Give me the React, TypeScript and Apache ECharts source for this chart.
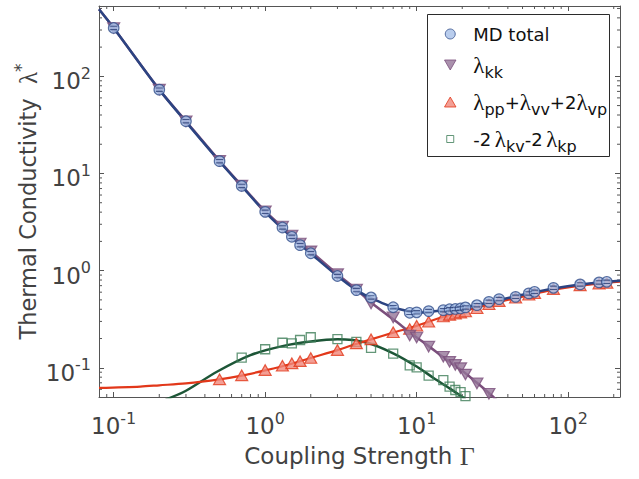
import React, { useEffect, useRef } from 'react';
import * as echarts from 'echarts';

// ---------- data ----------
const gammaMD = [0.1, 0.2, 0.3, 0.5, 0.7, 1, 1.3, 1.5, 1.7, 2, 3, 4, 5, 7, 9, 10, 12, 15, 16.5, 18, 19.5, 21, 25, 30, 35, 45, 55, 60, 80, 120, 160, 180];
const lambdaMD = [315, 73, 34.5, 13.4, 7.45, 4.03, 2.78, 2.23, 1.83, 1.51, 0.88, 0.63, 0.53, 0.42, 0.368, 0.372, 0.383, 0.392, 0.4, 0.403, 0.408, 0.418, 0.441, 0.477, 0.509, 0.537, 0.583, 0.605, 0.665, 0.721, 0.756, 0.767];

const gammaKK = [0.1, 0.2, 0.3, 0.5, 0.7, 1, 1.3, 1.5, 1.7, 2, 3, 4, 5, 7, 9, 10, 12, 15, 16.5, 18, 19.5, 21, 25, 30];
const lambdaKK = [315, 73, 34.5, 13.5, 7.5, 4.09, 2.85, 2.3, 1.9, 1.58, 0.92, 0.64, 0.46, 0.33, 0.215, 0.205, 0.165, 0.13, 0.115, 0.107, 0.099, 0.085, 0.069, 0.054];

const gammaPP = [0.5, 0.7, 1, 1.3, 1.5, 1.7, 2, 3, 4, 5, 7, 9, 10, 12, 15, 16.5, 18, 19.5, 21, 25, 30, 35, 45, 55, 60, 80, 120, 160, 180];
const lambdaPP = [0.076, 0.0835, 0.0946, 0.105, 0.111, 0.117, 0.126, 0.152, 0.178, 0.196, 0.232, 0.251, 0.271, 0.298, 0.337, 0.35, 0.36, 0.37, 0.38, 0.41, 0.45, 0.485, 0.525, 0.565, 0.585, 0.645, 0.705, 0.735, 0.745];

const gammaKV = [0.7, 1, 1.3, 1.5, 1.7, 2, 3, 4, 5, 7, 9, 10, 12, 15, 16.5, 18, 19.5, 21];
const lambdaKV = [0.127, 0.155, 0.181, 0.178, 0.193, 0.206, 0.197, 0.185, 0.16, 0.14, 0.106, 0.101, 0.083, 0.0747, 0.064, 0.059, 0.056, 0.051];

// fitted curves
const fitGammaMD = [0.08, 0.1, 0.2, 0.3, 0.5, 0.7, 1, 1.5, 2, 3, 4, 5, 6, 7, 8, 10, 12, 15, 20, 30, 50, 80, 120, 220];
const fitLambdaMD = [490, 315, 73, 34, 13.3, 7.4, 4.0, 2.2, 1.5, 0.88, 0.63, 0.52, 0.46, 0.42, 0.395, 0.37, 0.375, 0.39, 0.415, 0.47, 0.565, 0.655, 0.72, 0.785];

const fitGammaKK = [0.08, 0.1, 0.2, 0.3, 0.5, 0.7, 1, 1.5, 2, 3, 4, 5, 7, 10, 12, 15, 20, 25, 30, 34];
const fitLambdaKK = [490, 315, 73, 34.5, 13.5, 7.5, 4.1, 2.3, 1.58, 0.92, 0.64, 0.47, 0.315, 0.205, 0.167, 0.128, 0.093, 0.07, 0.055, 0.046];

const fitGammaPP = [0.08, 0.15, 0.2, 0.3, 0.5, 0.7, 1, 1.5, 2, 3, 4, 5, 7, 10, 15, 20, 30, 50, 80, 120, 220];
const fitLambdaPP = [0.062, 0.064, 0.066, 0.069, 0.076, 0.083, 0.094, 0.11, 0.126, 0.152, 0.176, 0.196, 0.23, 0.27, 0.335, 0.38, 0.45, 0.54, 0.635, 0.7, 0.77];

const fitGammaKV = [0.22, 0.3, 0.48, 0.8, 1.3, 2, 3, 4.7, 7, 10, 13, 16.6, 20, 21];
const fitLambdaKV = [0.047, 0.058, 0.091, 0.135, 0.167, 0.186, 0.196, 0.181, 0.141, 0.103, 0.078, 0.061, 0.05, 0.047];

// axis ranges and ticks
const X_MIN = 0.08;
const X_MAX = 220;
const Y_MIN = 0.05;
const Y_MAX = 530;
const xMinorTicks = [0.09, 0.2, 0.3, 0.4, 0.5, 0.6, 0.7, 0.8, 0.9, 2, 3, 4, 5, 6, 7, 8, 9, 20, 30, 40, 50, 60, 70, 80, 90, 200];
const yMinorTicks = [0.06, 0.07, 0.08, 0.09, 0.2, 0.3, 0.4, 0.5, 0.6, 0.7, 0.8, 0.9, 2, 3, 4, 5, 6, 7, 8, 9, 20, 30, 40, 50, 60, 70, 80, 90, 200, 300, 400, 500];

const legendLabels: Record<string, string> = {
  'MD total': '{b|MD total}',
  kk: '{g|λ}{s|kk}',
  ppvv: '{g|λ}{s|pp}{b|+}{g|λ}{s|vv}{b|+2}{g|λ}{s|vp}',
  kvkp: '{b|-2\u2009}{g|λ}{s|kv}{b|-2\u2009}{g|λ}{s|kp}',
};

// ---------- styling ----------
const FONT = 'DejaVu Sans';
const GREEK = 'Liberation Serif';
const AXIS_COLOR = '#555555';
const LABEL_COLOR = '#424242';

const C_MD_LINE = '#2c4482';
const C_MD_FILL = '#a7c1e8';
const C_MD_EDGE = '#35508c';
const C_KK_LINE = '#7b4f7c';
const C_KK_FILL = '#957599';
const C_PP_LINE = '#e2381a';
const C_PP_FILL = '#f0877b';
const C_KV_LINE = '#1d5637';
const C_KV_EDGE = '#3d7d58';

const TRI_UP = 'path://M5,0L10,8.7L0,8.7Z';
const TRI_DOWN = 'path://M0,0L10,0L5,8.7Z';

const pairs = (xs: number[], ys: number[]) => xs.map((x, i) => [x, ys[i]]);

const tickRich = {
  b: { fontFamily: FONT, fontSize: 23, color: LABEL_COLOR, lineHeight: 30, padding: [10, 0, 0, 0] },
  s: { fontFamily: FONT, fontSize: 16, color: LABEL_COLOR, lineHeight: 30, padding: [0, 0, 6, 0] },
};

const fmtPow = (v: number) => {
  const e = Math.log10(v);
  const r = Math.round(e);
  if (Math.abs(e - r) > 1e-6) return '';
  return `{b|10}{s|${r}}`;
};

const legendRich = {
  b: { fontFamily: FONT, fontSize: 18, lineHeight: 30, color: '#111111' },
  g: { fontFamily: GREEK, fontSize: 23, lineHeight: 30, color: '#111111' },
  s: { fontFamily: FONT, fontSize: 16, lineHeight: 30, color: '#111111', padding: [14, 0, 0, 0] },
};

const baseAxis = {
  type: 'log' as const,
  logBase: 10,
  axisLine: { show: true, onZero: false, lineStyle: { color: AXIS_COLOR, width: 1 } },
  axisTick: { show: true, inside: true, length: 5, lineStyle: { color: AXIS_COLOR, width: 1 } },
  minorTick: { show: false },
  splitLine: { show: false },
  minorSplitLine: { show: false },
};

export default function App() {
  const ref = useRef<HTMLDivElement>(null);

  useEffect(() => {
    if (!ref.current) return;
    const chart = echarts.init(ref.current, undefined, { renderer: 'svg' });

    const option: any = {
      animation: false,
      backgroundColor: '#ffffff',
      textStyle: { fontFamily: FONT },
      grid: { left: 99, right: 19, top: 6, bottom: 82, containLabel: false, outerBoundsMode: 'none' },
      graphic: [
        {
          type: 'rect',
          z: 1,
          shape: { x: 427.5, y: 14.5, width: 182, height: 142 },
          style: { fill: '#ffffff', stroke: '#2b2b2b', lineWidth: 1 },
          silent: true,
        },
      ],
      xAxis: [
        {
          ...baseAxis,
          position: 'bottom',
          min: X_MIN,
          max: X_MAX,
          axisLabel: { formatter: fmtPow, rich: tickRich, margin: 9, showMinLabel: false, showMaxLabel: false },
          name: '{b|Coupling Strength }{g|Γ}',
          nameLocation: 'middle',
          nameGap: 46,
          nameMoveOverlap: false,
          nameTextStyle: {
            rich: {
              b: { fontFamily: FONT, fontSize: 23, color: LABEL_COLOR, lineHeight: 26 },
              g: { fontFamily: GREEK, fontSize: 26, color: LABEL_COLOR, lineHeight: 26 },
            },
          },
        },
        {
          ...baseAxis,
          position: 'top',
          min: X_MIN,
          max: X_MAX,
          axisLabel: { show: false },
        },
      ],
      yAxis: [
        {
          ...baseAxis,
          position: 'left',
          min: Y_MIN,
          max: Y_MAX,
          axisLabel: { formatter: fmtPow, rich: tickRich, margin: 8, showMinLabel: false, showMaxLabel: false },
          name: '{b|Thermal Conductivity  }{g|λ}{p|*}',
          nameLocation: 'middle',
          nameRotate: 90,
          nameGap: 58,
          nameMoveOverlap: false,
          nameTextStyle: {
            rich: {
              b: { fontFamily: FONT, fontSize: 22.5, color: LABEL_COLOR, lineHeight: 26 },
              g: { fontFamily: GREEK, fontSize: 25, color: LABEL_COLOR, lineHeight: 26 },
              p: { fontFamily: FONT, fontSize: 17, color: LABEL_COLOR, lineHeight: 26, padding: [0, 0, 14, 0] },
            },
          },
        },
        {
          ...baseAxis,
          position: 'right',
          min: Y_MIN,
          max: Y_MAX,
          axisLabel: { show: false },
        },
      ],
      legend: {
        orient: 'vertical',
        left: 440,
        top: 21,
        z: 5,
        padding: [4, 2, 6, 4],
        itemGap: 7,
        itemWidth: 36,
        itemHeight: 10,
        symbolKeepAspect: true,
        borderWidth: 0,
        selectedMode: false,
        itemStyle: { borderWidth: 1 },
        data: [
          { name: 'MD total', icon: 'circle' },
          { name: 'kk', icon: TRI_DOWN },
          { name: 'ppvv', icon: TRI_UP },
          { name: 'kvkp', icon: 'path://M0,0h0M1.5,1.5h7v7h-7zM10,10h0' },
        ],
        formatter: (name: string) => legendLabels[name] || name,
        textStyle: { rich: legendRich, color: '#111111' },
      },
      series: [
        {
          type: 'custom',
          name: 'xMinor',
          silent: true,
          z: 2,
          data: xMinorTicks.map((v) => [v, 1]),
          renderItem: (params: any, api: any) => {
            const cs = params.coordSys;
            const px = api.coord([api.value(0), api.value(1)])[0];
            const bottom = cs.y + cs.height;
            const top = cs.y;
            return {
              type: 'group',
              children: [
                { type: 'line', shape: { x1: px, y1: bottom, x2: px, y2: bottom - 3 }, style: { stroke: AXIS_COLOR, lineWidth: 1 } },
                { type: 'line', shape: { x1: px, y1: top, x2: px, y2: top + 3 }, style: { stroke: AXIS_COLOR, lineWidth: 1 } },
              ],
            };
          },
        },
        {
          type: 'custom',
          name: 'yMinor',
          silent: true,
          z: 2,
          data: yMinorTicks.map((v) => [1, v]),
          renderItem: (params: any, api: any) => {
            const cs = params.coordSys;
            const py = api.coord([api.value(0), api.value(1)])[1];
            const left = cs.x;
            const right = cs.x + cs.width;
            return {
              type: 'group',
              children: [
                { type: 'line', shape: { x1: left, y1: py, x2: left + 3, y2: py }, style: { stroke: AXIS_COLOR, lineWidth: 1 } },
                { type: 'line', shape: { x1: right, y1: py, x2: right - 3, y2: py }, style: { stroke: AXIS_COLOR, lineWidth: 1 } },
              ],
            };
          },
        },
        {
          type: 'line', name: 'fitKV', data: pairs(fitGammaKV, fitLambdaKV), showSymbol: false, smooth: 0.3, z: 2,
          lineStyle: { color: C_KV_LINE, width: 2.5 }, silent: true,
        },
        {
          type: 'line', name: 'fitPP', data: pairs(fitGammaPP, fitLambdaPP), showSymbol: false, smooth: 0.3, z: 2,
          lineStyle: { color: C_PP_LINE, width: 2.2 }, silent: true,
        },
        {
          type: 'line', name: 'fitKK', data: pairs(fitGammaKK, fitLambdaKK), showSymbol: false, smooth: 0.3, z: 2,
          lineStyle: { color: C_KK_LINE, width: 2.5 }, silent: true,
        },
        {
          type: 'line', name: 'fitMD', data: pairs(fitGammaMD, fitLambdaMD), showSymbol: false, smooth: 0.3, z: 2,
          lineStyle: { color: C_MD_LINE, width: 2.5 }, silent: true,
        },
        {
          type: 'scatter', name: 'kvkp', data: pairs(gammaKV, lambdaKV), symbol: 'rect', symbolSize: 9, z: 3,
          itemStyle: { color: 'rgba(255,255,255,0)', borderColor: C_KV_EDGE, borderWidth: 1.3 },
        },
        {
          type: 'scatter', name: 'ppvv', data: pairs(gammaPP, lambdaPP), symbol: TRI_UP, symbolSize: [12, 10.5], z: 3,
          itemStyle: { color: C_PP_FILL, borderColor: C_PP_LINE, borderWidth: 1.2 },
        },
        {
          type: 'scatter', name: 'kk', data: pairs(gammaKK, lambdaKK), symbol: TRI_DOWN, symbolSize: [12, 10.5], z: 3,
          itemStyle: { color: C_KK_FILL, borderColor: C_KK_LINE, borderWidth: 1.2 },
        },
        {
          type: 'scatter', name: 'MD total', data: pairs(gammaMD, lambdaMD), symbol: 'circle', symbolSize: 10.5, z: 4,
          itemStyle: { color: C_MD_FILL, borderColor: C_MD_EDGE, borderWidth: 1.2 },
        },
        {
          type: 'scatter', name: 'mdErr', data: pairs(gammaMD, lambdaMD), symbol: 'path://M0,0H10V1.5H0Z M0,4.5H10V6H0Z',
          symbolSize: [7, 4.5], silent: true, z: 5,
          itemStyle: { color: '#2a3f75' },
        },
      ],
    };

    chart.setOption(option);
    return () => chart.dispose();
  }, []);

  return (
    <div
      ref={ref}
      style={{ position: 'fixed', left: 0, top: 0, width: 639, height: 479, background: '#fff' }}
    />
  );
}
